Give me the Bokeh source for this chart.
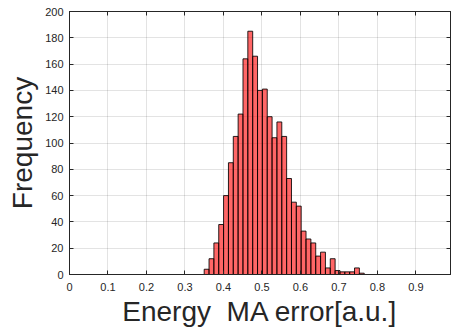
from bokeh.plotting import figure
from bokeh.models import Range1d, FixedTicker, LinearAxis
from bokeh.embed import file_html
from bokeh.resources import INLINE

# Histogram data
bin_start = 0.35
bin_width = 0.0126
counts = [4, 12, 24, 38, 60, 85, 105, 122, 164, 185, 166, 140, 141, 120, 104,
          116, 105, 73, 55, 52, 33, 27, 24, 14, 17, 5, 12, 3, 2, 2, 2, 5, 1]
x_ticks = [0, 0.1, 0.2, 0.3, 0.4, 0.5, 0.6, 0.7, 0.8, 0.9]
x_tick_labels = ["0", "0.1", "0.2", "0.3", "0.4", "0.5", "0.6", "0.7", "0.8", "0.9"]
y_ticks = [0, 20, 40, 60, 80, 100, 120, 140, 160, 180, 200]
x_title = "Energy \u00a0MA error[a.u.]"
y_title = "Frequency"

lefts = [bin_start + i * bin_width for i in range(len(counts))]
rights = [l + bin_width for l in lefts]

FONT = "Liberation Sans"
DARK = "#262626"

p = figure(width=451, height=331, output_backend="svg", toolbar_location=None,
           x_range=Range1d(0, 0.99), y_range=Range1d(0, 200),
           min_border_left=69, min_border_right=1, min_border_top=11, min_border_bottom=57)
p.background_fill_color = "white"
p.border_fill_color = "white"
p.outline_line_color = DARK
p.outline_line_width = 1

p.quad(left=lefts, right=rights, top=counts, bottom=0,
       fill_color="#ff0000", fill_alpha=0.6, line_color="black", line_width=1, line_alpha=0.85)

xt = FixedTicker(ticks=x_ticks)
yt = FixedTicker(ticks=y_ticks)

for ax in [p.xaxis[0], p.yaxis[0]]:
    ax.major_tick_in = 4
    ax.major_tick_out = 0
    ax.minor_tick_in = 0
    ax.minor_tick_out = 0
    ax.axis_line_color = DARK
    ax.major_tick_line_color = DARK
    ax.major_label_text_font = FONT
    ax.major_label_text_font_size = "11px"
    ax.major_label_text_color = DARK
    ax.axis_label_text_font = FONT
    ax.axis_label_text_font_size = "28px"
    ax.axis_label_text_font_style = "normal"
    ax.axis_label_text_color = DARK

p.xaxis[0].ticker = xt
p.xaxis[0].major_label_overrides = {t: s for t, s in zip(x_ticks, x_tick_labels)}
p.xaxis[0].major_label_standoff = 8
p.xaxis[0].axis_label = x_title
p.xaxis[0].axis_label_standoff = 2

p.yaxis[0].ticker = yt
p.yaxis[0].major_label_standoff = 6
p.yaxis[0].axis_label = y_title
p.yaxis[0].axis_label_standoff = 4

top_ax = LinearAxis(ticker=xt, major_tick_in=4, major_tick_out=0, minor_tick_in=0, minor_tick_out=0,
                    major_label_overrides={t: "" for t in x_ticks},
                    major_label_text_font_size="11px", major_label_standoff=0,
                    axis_line_color=DARK, major_tick_line_color=DARK)
right_ax = LinearAxis(ticker=yt, major_tick_in=4, major_tick_out=0, minor_tick_in=0, minor_tick_out=0,
                      major_label_overrides={t: "" for t in y_ticks},
                      major_label_text_font_size="11px", major_label_standoff=0,
                      axis_line_color=DARK, major_tick_line_color=DARK)
p.add_layout(top_ax, "above")
p.add_layout(right_ax, "right")

p.xgrid.ticker = xt
p.ygrid.ticker = yt
p.grid.grid_line_color = "#262626"
p.grid.grid_line_alpha = 0.13
p.grid.grid_line_width = 1

open("out.html", "w").write(file_html(p, INLINE))
